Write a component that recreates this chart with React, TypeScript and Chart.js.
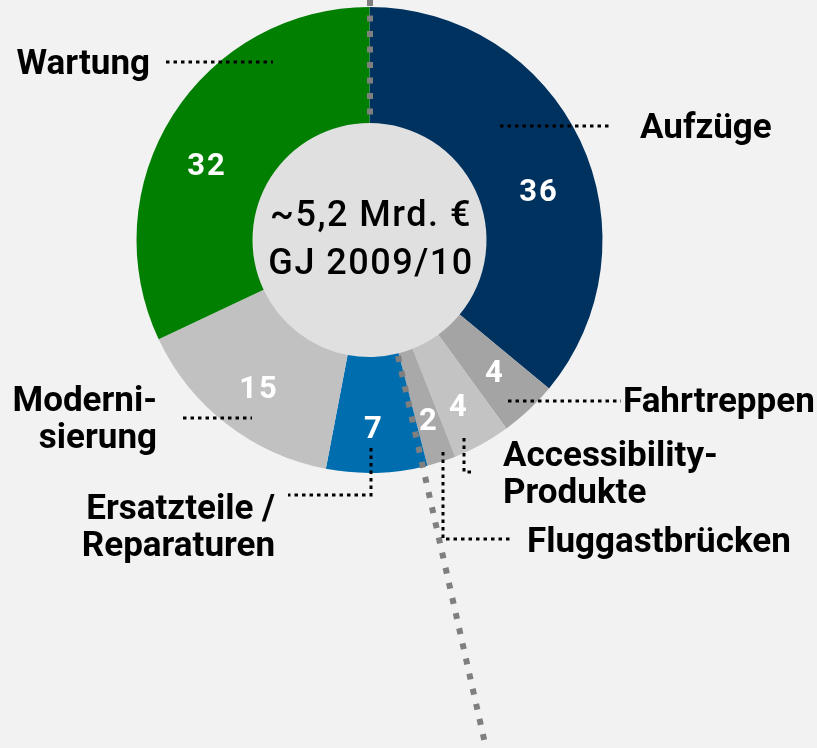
import React, { useEffect, useRef } from "react";
import { Chart, registerables } from "chart.js";

Chart.register(...registerables);

const categories = [
  "Aufzüge",
  "Fahrtreppen",
  "Accessibility-Produkte",
  "Fluggastbrücken",
  "Ersatzteile / Reparaturen",
  "Modernisierung",
  "Wartung",
];
const values = [36, 4, 4, 2, 7, 15, 32];
const colors = ["#00325f", "#a4a4a4", "#c3c3c3", "#a9a9a9", "#006eae", "#c1c1c1", "#007f00"];
const centerLines = ["~5,2 Mrd. €", "GJ 2009/10"];

// annotation layout (label text lines, positions, leader lines)
const valuePos: [number, number][] = [
  [538, 193],
  [494, 374],
  [458, 408],
  [428, 422],
  [373, 430],
  [258, 390],
  [206, 167],
];

type Callout = {
  lines: string[];
  x: number;
  y: number;
  align: CanvasTextAlign;
  leader: [number, number][];
};
const callouts: Callout[] = [
  { lines: ["Aufzüge"], x: 640, y: 129, align: "left", leader: [[500, 126], [612, 126]] },
  { lines: ["Fahrtreppen"], x: 623, y: 403, align: "left", leader: [[508, 401], [621, 401]] },
  { lines: ["Accessibility-", "Produkte"], x: 503, y: 457, align: "left", leader: [[464, 438], [464, 472], [473, 472]] },
  { lines: ["Fluggastbrücken"], x: 527, y: 543, align: "left", leader: [[443, 452], [443, 539], [510, 539]] },
  { lines: ["Ersatzteile /", "Reparaturen"], x: 275, y: 510, align: "right", leader: [[371, 448], [371, 495], [288, 495]] },
  { lines: ["Moderni-", "sierung"], x: 157, y: 402, align: "right", leader: [[183, 418], [252, 418]] },
  { lines: ["Wartung"], x: 150, y: 65, align: "right", leader: [[166, 62], [273, 62]] },
];

const overlayPlugin = {
  id: "overlay",
  beforeDatasetsDraw(chart: any) {
    const ctx = chart.ctx;
    const arc = chart.getDatasetMeta(0).data[0];
    const { x, y, innerRadius } = arc.getProps(["x", "y", "innerRadius"], true);
    ctx.save();
    ctx.fillStyle = "#e0e0e0";
    ctx.beginPath();
    ctx.arc(x, y, innerRadius + 0.5, 0, Math.PI * 2);
    ctx.fill();
    ctx.restore();
  },
  afterDatasetsDraw(chart: any) {
    const ctx = chart.ctx;
    const arc = chart.getDatasetMeta(0).data[0];
    const { x, y, innerRadius } = arc.getProps(["x", "y", "innerRadius"], true);
    ctx.save();
    // gray dashed divider
    ctx.strokeStyle = "#7f7f7f";
    ctx.lineWidth = 6;
    ctx.setLineDash([6, 9.5]);
    ctx.beginPath();
    ctx.moveTo(x + 0.5, 0);
    ctx.lineTo(x + 0.5, y - innerRadius);
    ctx.stroke();
    ctx.beginPath();
    ctx.moveTo(398, 356);
    ctx.lineTo(486, 748);
    ctx.stroke();

    // center text
    ctx.setLineDash([]);
    ctx.fillStyle = "#000";
    ctx.textAlign = "center";
    ctx.textBaseline = "middle";
    ctx.font = "500 36px Roboto";
    (ctx as any).letterSpacing = "1.5px";
    ctx.fillText(centerLines[0], x + 1.5, 217);
    ctx.fillText(centerLines[1], x + 1.5, 265);

    // value labels
    ctx.fillStyle = "#fff";
    ctx.font = "bold 31px Roboto";
    (ctx as any).letterSpacing = "2px";
    values.forEach((v, i) => {
      ctx.fillText(String(v), valuePos[i][0] + 1, valuePos[i][1]);
    });
    (ctx as any).letterSpacing = "0px";

    // callouts
    ctx.strokeStyle = "#000";
    ctx.lineWidth = 3;
    ctx.setLineDash([3.5, 4]);
    callouts.forEach((c) => {
      ctx.beginPath();
      c.leader.forEach((p, j) => (j === 0 ? ctx.moveTo(p[0], p[1]) : ctx.lineTo(p[0], p[1])));
      ctx.stroke();
    });
    ctx.setLineDash([]);
    ctx.fillStyle = "#000";
    ctx.font = "bold 35px Roboto";
    callouts.forEach((c) => {
      ctx.textAlign = c.align;
      c.lines.forEach((l, j) => ctx.fillText(l, c.x, c.y + j * 37));
    });
    ctx.restore();
  },
};

export default function App() {
  const ref = useRef<HTMLCanvasElement>(null);
  useEffect(() => {
    if (!ref.current) return;
    const chart = new Chart(ref.current, {
      type: "doughnut",
      data: {
        labels: categories,
        datasets: [
          {
            data: values,
            backgroundColor: colors,
            borderWidth: 0,
          },
        ],
      },
      options: {
        responsive: false,
        animation: false,
        cutout: 117,
        layout: { padding: { left: 136.5, right: 214.5, top: 7, bottom: 275 } },
        plugins: { legend: { display: false }, tooltip: { enabled: false } },
      },
      plugins: [overlayPlugin],
    });
    return () => chart.destroy();
  }, []);
  return (
    <div style={{ position: "fixed", left: 0, top: 0, width: 817, height: 748, background: "#f2f2f2" }}>
      <canvas ref={ref} width={817} height={748} />
    </div>
  );
}
